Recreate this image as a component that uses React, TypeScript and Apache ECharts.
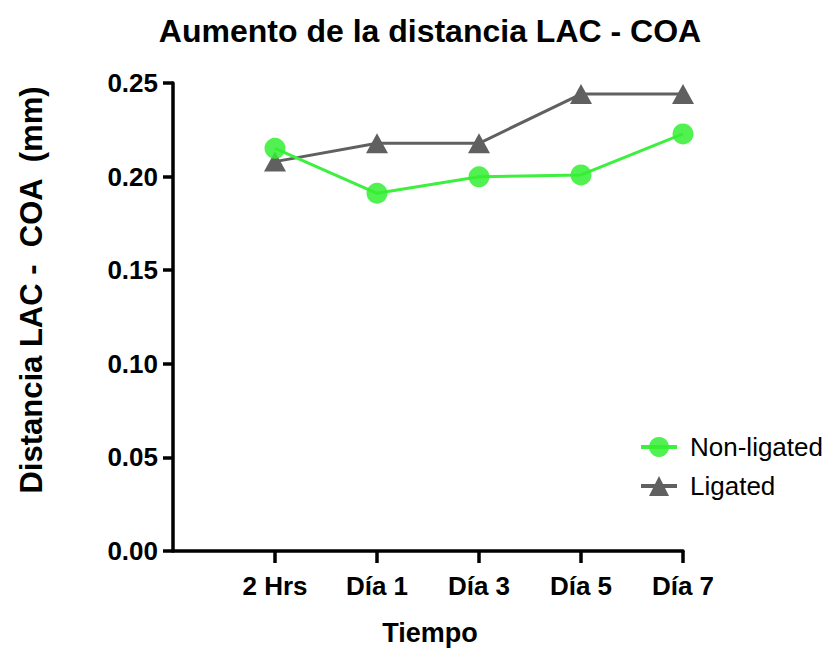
import React, { useEffect, useRef } from "react";
import * as echarts from "echarts";

const categories = ["", "2 Hrs", "Día 1", "Día 3", "Día 5", "Día 7"];
const nonLigated = [null, 0.2151, 0.1911, 0.1999, 0.2009, 0.2228];
const ligated = [null, 0.208, 0.2178, 0.2178, 0.2441, 0.2441];
const yTicks = { min: 0, max: 0.25, interval: 0.05 };

const FONT = "'Liberation Sans', Arial, Helvetica, sans-serif";

export default function App() {
  const ref = useRef<HTMLDivElement>(null);
  useEffect(() => {
    if (!ref.current) return;
    const chart = echarts.init(ref.current, null, { renderer: "svg" });
    chart.setOption({
      animation: false,
      backgroundColor: "#ffffff",
      textStyle: { fontFamily: FONT },
      title: {
        text: "Aumento de la distancia LAC - COA",
        left: 425,
        textAlign: "center",
        top: 10,
        textStyle: { fontFamily: FONT, fontSize: 32, fontWeight: "bold", color: "#000" },
      },
      grid: { left: 173, right: 146, top: 83, bottom: 98, containLabel: false },
      xAxis: {
        type: "category",
        data: categories,
        boundaryGap: false,
        axisLine: { lineStyle: { color: "#000", width: 3.5 } },
        axisTick: {
          length: 12,
          interval: (index: number) => index !== 0,
          lineStyle: { color: "#000", width: 3.5 },
        },
        axisLabel: {
          interval: 0,
          margin: 22,
          color: "#000",
          fontFamily: FONT,
          fontSize: 26,
          fontWeight: "bold",
        },
        splitLine: { show: false },
      },
      yAxis: {
        type: "value",
        min: yTicks.min,
        max: yTicks.max,
        interval: yTicks.interval,
        axisLine: { show: true, lineStyle: { color: "#000", width: 3.5 } },
        axisTick: { show: true, length: 10, lineStyle: { color: "#000", width: 3.5 } },
        axisLabel: {
          margin: 15,
          color: "#000",
          fontFamily: FONT,
          fontSize: 26,
          fontWeight: "bold",
          formatter: (v: number) => v.toFixed(2),
        },
        splitLine: { show: false },
      },
      legend: {
        orient: "vertical",
        left: 634,
        top: 427,
        itemWidth: 36,
        itemHeight: 25,
        itemGap: 9,
        data: ["Non-ligated", "Ligated"],
        lineStyle: { width: 4 },
        textStyle: {
          fontFamily: FONT,
          fontSize: 26,
          color: "#000",
          lineHeight: 30,
          padding: [0, 0, 0, 8],
        },
      },
      graphic: [
        {
          type: "text",
          x: 31,
          y: 290,
          rotation: Math.PI / 2,
          style: {
            text: "Distancia LAC -  COA  (mm)",
            font: `bold 31px ${FONT}`,
            fill: "#000",
            textAlign: "center",
            textVerticalAlign: "middle",
          },
        },
        {
          type: "text",
          x: 430,
          y: 633,
          style: {
            text: "Tiempo",
            font: `bold 27px ${FONT}`,
            fill: "#000",
            textAlign: "center",
            textVerticalAlign: "middle",
          },
        },
      ],
      series: [
        {
          name: "Ligated",
          type: "line",
          data: ligated,
          symbol: "triangle",
          symbolSize: [22, 20],
          color: "#606060",
          lineStyle: { color: "#606060", width: 3 },
          itemStyle: { color: "#606060" },
          z: 2,
        },
        {
          name: "Non-ligated",
          type: "line",
          data: nonLigated,
          symbol: "circle",
          symbolSize: 21,
          color: "#33ee33",
          lineStyle: { color: "#3ef03e", width: 3 },
          itemStyle: { color: "#33ee33", opacity: 0.85 },
          z: 3,
        },
      ],
    });
    return () => chart.dispose();
  }, []);
  return <div ref={ref} style={{ width: 829, height: 649, position: "absolute", left: 0, top: 0 }} />;
}
